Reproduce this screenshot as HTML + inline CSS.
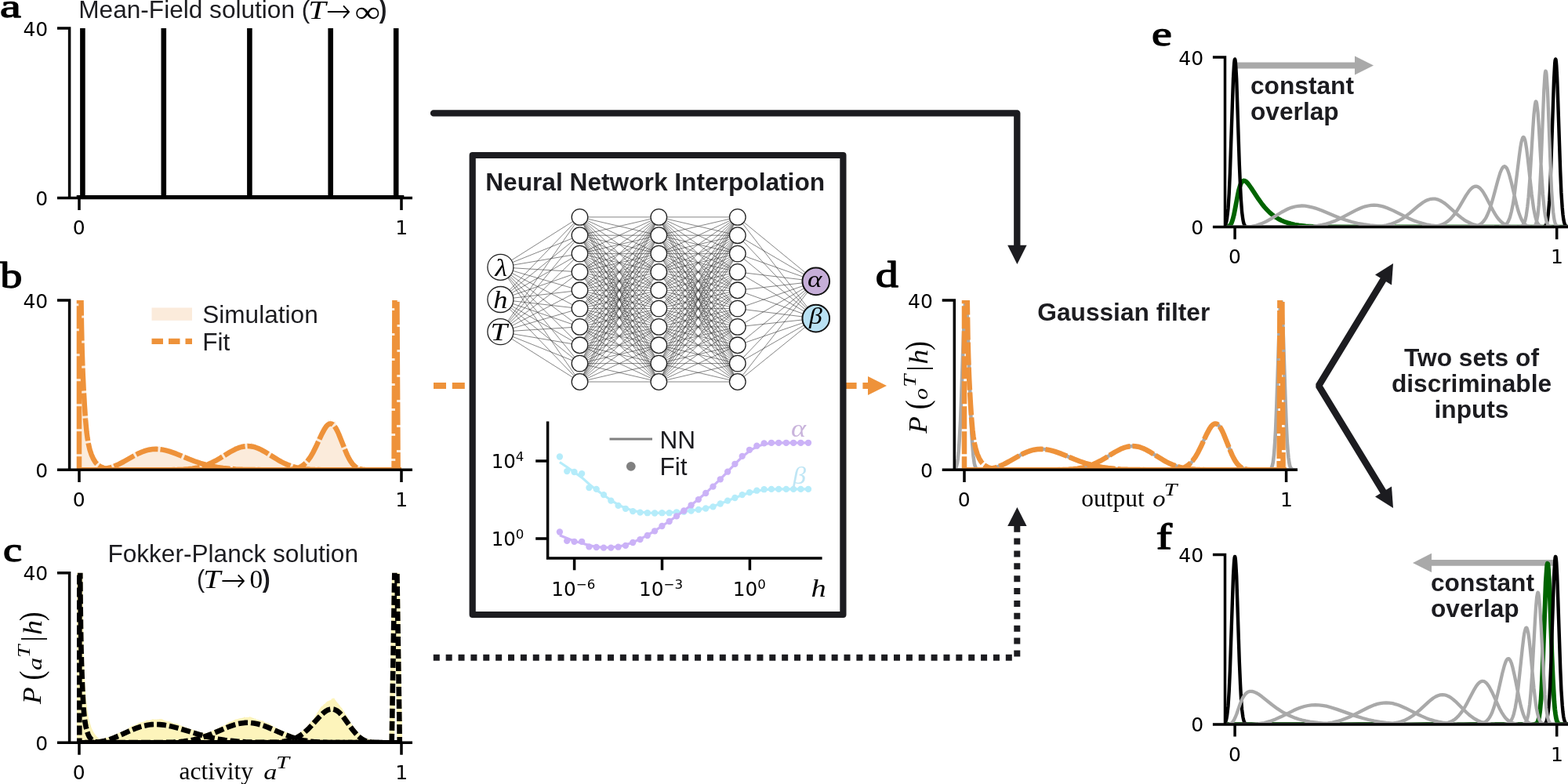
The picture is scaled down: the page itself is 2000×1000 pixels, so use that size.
<!DOCTYPE html>
<html lang="en"><head><meta charset="utf-8"><title>Figure</title>
<style>html,body{margin:0;padding:0;background:#fff}svg{display:block}</style></head><body>
<svg width="2000" height="1000" viewBox="0 0 2000 1000">
<rect width="2000" height="1000" fill="#fff"/>
<text transform="translate(0.12 22.13) scale(1.4001 1)" font-family="Liberation Serif, serif" font-size="43.21" fill="#000" stroke="#000" stroke-width="1.3" stroke-linejoin="round">a</text>
<text transform="translate(0.35 366.5) scale(1.2149 1)" font-family="Liberation Serif, serif" font-size="46.33" fill="#000" stroke="#000" stroke-width="1.3" stroke-linejoin="round">b</text>
<text transform="translate(4.08 716.31) scale(1.2113 1)" font-family="Liberation Serif, serif" font-size="44.91" fill="#000" stroke="#000" stroke-width="1.3" stroke-linejoin="round">c</text>
<text transform="translate(1116.75 366.2) scale(1.2568 1)" font-family="Liberation Serif, serif" font-size="46.33" fill="#000" stroke="#000" stroke-width="1.3" stroke-linejoin="round">d</text>
<text transform="translate(1468.88 57.91) scale(1.2875 1)" font-family="Liberation Serif, serif" font-size="45.12" fill="#000" stroke="#000" stroke-width="1.3" stroke-linejoin="round">e</text>
<text transform="translate(1474.69 700.05) scale(1.3117 1)" font-family="Liberation Serif, serif" font-size="46.16" fill="#000" stroke="#000" stroke-width="1.3" stroke-linejoin="round">f</text>
<clipPath id="cp1"><rect x="88.6" y="36" width="437.4" height="216.4"/></clipPath>
<g clip-path="url(#cp1)">
<path d="M101 252.4H512M105.4 252.4V30M208.8 252.4V30M318.4 252.4V30M421.7 252.4V30M505.2 252.4V30" fill="none" stroke="#000" stroke-width="6.6" stroke-linecap="square"/>
</g>
<path d="M88.6 36V252.4H526M73 36H90.35M73 252.4H88.6M101 252.4v15.6M512 252.4v15.6" fill="none" stroke="#000" stroke-width="3.5"/>
<g font-family="DejaVu Sans, sans-serif" font-size="25" fill="#000"><text x="61.2" y="45.7" text-anchor="end">40</text><text x="61.2" y="261.8" text-anchor="end">0</text><text x="100.8" y="299" text-anchor="middle">0</text><text x="512.3" y="299" text-anchor="middle">1</text></g>
<text x="100.3" y="23.2" font-family="Liberation Sans, sans-serif" font-size="31.6" fill="#1c1c20">Mean-Field solution (</text>
<text transform="translate(393.26 23.7) scale(1.1909 1)" font-family="Liberation Serif, serif" font-size="33.9" font-style="italic" fill="#000">T</text>
<text transform="translate(415.6 27.93) scale(0.9305 1)" font-family="DejaVu Sans, sans-serif" font-size="41.41" font-weight="200" fill="#000">→</text>
<text transform="translate(452.38 27.53) scale(1.1832 1)" font-family="Liberation Serif, serif" font-size="38.6" fill="#000">∞</text>
<text transform="translate(483.77 22.87) scale(0.8714 1)" font-family="Liberation Sans, sans-serif" font-size="32.94" font-weight="bold" fill="#1c1c20">)</text>
<clipPath id="cp2"><rect x="88.6" y="383" width="437.4" height="216.3"/></clipPath>
<g clip-path="url(#cp2)">
<path d="M101 383L103.5 383L104 414.7L105.5 474.5L106.5 487.5L107 486.9L109 537.2L109.5 540.3L111 556.7L111.5 556.4L112 557.8L113 567.2L114 570.3L115 574.9L115.5 575.8L116 575.3L117.5 582.8L118 584.6L118.5 585.7L119 586.7L119.5 585.9L120 586.4L121 588.5L122.5 590.9L123 591.5L124 592.1L124.5 593L125.5 593.4L126 593.2L126.5 593.3L127.5 593.9L129 595.7L129.5 595.8L130 596.4L131.5 596.3L134 597.4L135.5 597.6L136.5 597.4L138 596.8L140.5 596.5L143.5 595.1L144 595.1L144.5 595.5L145 595.5L145.5 595.3L146 594.7L148.5 593.2L149.5 592.9L150.5 591.7L151 591.6L151.5 591.9L152 591.7L152.5 590.8L153 590.5L153.5 590.5L154 590.8L155.5 589.5L156.5 589.5L157 588.7L157.5 588.6L158.5 587.7L159 586.9L159.5 587.1L160 586.6L160.5 586.8L161 585.9L161.5 586.5L162 586.7L162.5 586.5L163.5 584.7L164 584.3L164.5 584.5L165.5 584.5L166.5 581.7L167 581.5L168 582.4L169.5 581.3L170 581.8L170.5 582.6L171 582L172 578.9L172.5 579.1L173 578.4L173.5 578.7L174 578L175 577.4L175.5 577.6L176 577.2L176.5 578.1L177 577.2L177.5 577.8L178 576.3L178.5 576.7L179 576.5L179.5 576.7L180 575.1L180.5 575.5L181 575.1L181.5 575.9L182 576.1L182.5 573.8L183 573.4L183.5 573.4L184.5 574.9L185 573.2L185.5 573.5L186 573L186.5 573.5L187 574.6L187.5 574L188 574.9L188.5 575.4L189 575.3L189.5 572.8L190.5 569.3L191 569.5L191.5 570.4L192.5 574.4L193 574.7L193.5 575.5L194.5 571.8L195 571.3L195.5 572.1L196 574.1L196.5 573.6L197 572.8L197.5 571L198 571.6L198.5 569.9L199.5 568.6L200 571L200.5 572.4L201.5 571.7L202.5 570.5L203 569.3L203.5 568.7L204.5 570.5L205 572L205.5 572.5L206 571.2L206.5 571.4L207 569.1L207.5 571.3L208 570.7L208.5 571.6L209 571.4L209.5 571.4L210 572.7L211.5 574.3L212 572.7L212.5 572.8L213 570.9L213.5 574.7L214 574.7L214.5 575.8L215 574L215.5 573.3L216.5 573.5L217 574.2L217.5 572.7L218 572.4L218.5 572.7L219 575.5L219.5 575.8L220 577.2L220.5 577.2L221.5 574L222 573.6L222.5 574.8L223 574.4L223.5 574.7L224 574.2L224.5 575L225.5 576L226 578.7L226.5 579.4L227 580.6L227.5 579.8L228 579.7L228.5 580.5L229 580.6L229.5 578.9L230 578.3L230.5 578.2L231.5 580L232 579.7L232.5 580.5L233 579.6L233.5 581.2L234 581.2L234.5 582.3L235.5 582.4L236 583.2L236.5 581.9L237 582.4L237.5 581.8L238 582.8L238.5 582.8L239 584.4L239.5 584.6L240 585.6L240.5 584.7L241 585L241.5 584.6L242 585.3L243 584.1L243.5 584.1L244.5 586.2L245.5 585.2L246.5 587L247 588.4L247.5 588.5L248 589.1L248.5 588.7L249 588.9L249.5 587.9L250 587.9L250.5 588.1L251.5 589.9L252 589.2L252.5 589.3L253.5 590.4L254.5 590.1L255 589.8L255.5 590L256 589.8L256.5 590.7L257.5 591.3L258 591.8L258.5 591.9L259 592.4L259.5 592L260 592.6L260.5 591.8L261 591.9L261.5 591.4L262.5 592.4L263 593.2L263.5 593.6L265 591.7L265.5 591.5L266 591.6L266.5 591.6L267.5 590.6L268.5 591.4L269 591.1L269.5 590.1L270 590.1L270.5 589.7L271 590.3L272 588.7L272.5 587.1L273 587.7L273.5 587.9L274 589.3L274.5 588.3L275 588.2L275.5 587.1L276.5 586.4L277 585.3L278 584.7L278.5 585.7L279 586.1L279.5 586.1L281 582.5L281.5 582.8L282 582.6L282.5 582.9L283.5 581.5L284 581.7L284.5 580.3L285 580.5L285.5 579.1L286 579.7L286.5 578.2L287 579.5L287.5 578.8L288 579.8L288.5 578.3L289 577.5L289.5 577.7L290 578.5L290.5 579.8L291 578.5L291.5 578.6L292 577.5L292.5 578.4L293 577.5L293.5 577.6L294 576L294.5 575.3L295 575.1L295.5 575.2L296 574.6L296.5 576.2L297 576.3L297.5 575.7L298.5 569.6L299 568.8L299.5 569.5L300 572L300.5 572.3L301 571.4L301.5 569L302 569.7L303 570.2L303.5 567.3L304 567.1L304.5 568.2L305 570.6L305.5 571L306 570.9L307.5 566.1L308 565.6L308.5 567L309 567.2L309.5 568.7L310.5 567.1L311 566.6L312 570L312.5 570.7L313 570.3L313.5 570.8L314 569L314.5 565.6L315 565.2L315.5 565.2L316.5 566.4L317.5 568.9L318 567.5L318.5 569.2L319 569.5L319.5 568.7L320.5 563.5L321 565.1L321.5 564.6L323.5 569.5L324 567.7L324.5 568.7L325 567.3L326.5 568.5L327.5 569L328 568.9L328.5 569.8L329 570.2L329.5 572.2L330 573.4L330.5 573.5L331 571.5L332 571L332.5 573.9L333 573.9L334 571.3L334.5 571.6L335.5 575L336 575.4L336.5 576.4L337 576.8L338.5 574.4L339 575.1L339.5 577L340.5 578.6L341 577.2L341.5 577.1L342 576.2L342.5 577.4L343 579.4L343.5 579.6L344 578.8L344.5 579L345 579.8L345.5 580.2L346 580.3L346.5 579.6L347 580.9L348 581.8L349 581.8L349.5 582.4L350 584L350.5 583L351 584.2L351.5 583.4L352 584.8L352.5 584.5L353 584.5L353.5 585.1L354 585.2L354.5 586.1L355 586.3L356 587.6L356.5 587.9L357.5 587.7L358 587.3L359 588.4L359.5 589.7L360 590.3L361 589.8L361.5 590.1L362 590.1L362.5 590.9L363.5 591.7L364 590.9L364.5 590.7L365.5 591.9L366 592L366.5 591.8L368 593.2L368.5 593.2L369.5 592.7L371 594.3L373.5 594.6L374.5 595.2L375 595.8L376.5 596.3L378 596.2L379.5 596.9L380.5 596.7L381.5 596.3L382 595.8L383.5 595.2L385 594.1L386 593.9L387.5 591.7L388 591.7L388.5 591.8L389 591.5L389.5 590.7L391 589.2L391.5 587.9L392 587.6L392.5 586.9L393 587.2L393.5 586.3L394 585.9L395 581.1L395.5 580L396 579.7L396.5 580.1L397 580.2L397.5 579.2L398 579.8L398.5 576.8L399 575.3L399.5 572.9L400 573.8L401 571.7L401.5 569.7L402 569.6L402.5 570.5L403.5 567.5L404 564.1L404.5 563.3L405 564.4L406 561.6L406.5 559.2L407 559.7L408.5 552.1L409.5 549.5L410 546.4L410.5 546.3L411 547.6L411.5 549.9L412 549.2L413 543.6L414 543.3L414.5 546L415 542L415.5 542.3L416 539L416.5 542.2L417 541.4L417.5 543L418 537.6L419 534.4L419.5 539.5L420 541.3L420.5 539.6L421 534.1L421.5 535.8L422.5 542.7L423 541.2L423.5 543L424 542.8L424.5 540.4L426 540.9L426.5 536.5L427 538.4L427.5 536.7L428.5 540L429.5 547.4L430 545.4L430.5 550.3L431 548.2L431.5 551.8L432 549.1L432.5 550.4L433 550.1L433.5 553.1L434 554L434.5 558.5L435 559.3L435.5 561.5L436 559.8L436.5 560.8L437 558.4L438 562L438.5 567.2L439 567.2L439.5 571.3L440 571.2L440.5 574.5L441 575.9L441.5 579.2L442 579.9L442.5 579.2L443.5 580.1L444.5 582.5L445 585L445.5 585.7L446 586.1L446.5 586.2L447.5 589.7L448 589.7L449 590.5L449.5 591.8L450 592.1L451 593.2L451.5 594.2L452 594.5L453.5 595.2L455.5 596.7L458 597.9L460.5 598.5L464.5 599.1L472.5 599.3L512 599.3L512 599.3L101 599.3Z" fill="#fbebdb"/>
<path d="M101 350.6L103 350.6L104 417.1L104.5 440.5L105.5 472.7L106.5 494.4L108 520L109 534.7L110.5 551L111.5 558.6L113 567.1L114.5 573.4L116.5 579.6L119 585.2L121.5 589.3L123 591.1L124.5 592.6L127.5 594.8L129.5 595.8L132 596.8L137.5 598.3L142.5 599L149 599.3L512 599.3M101 599.3L117.5 599.3L125.5 599L133 598.2L139.5 596.8L145.5 594.8L151.5 592.1L157.5 589L172.5 580.5L177 578.2L181 576.5L185.5 574.9L190 573.7L194.5 573L199 572.8L203 573L207.5 573.6L212 574.6L216.5 575.9L225 578.9L241 585.5L248 588.2L255.5 590.8L262.5 592.8L269.5 594.5L277 595.9L284.5 597L292.5 597.8L300.5 598.4L309.5 598.8L333.5 599.2L512 599.3M101 599.3L218.5 599.2L234 598.8L240 598.3L245.5 597.7L250.5 596.8L255.5 595.7L260.5 594.2L265 592.5L270 590.2L275 587.7L280.5 584.5L293.5 576.5L300.5 572.8L304.5 571.2L308.5 570L312.5 569.2L316 569L319 569.2L322.5 569.7L326 570.7L329.5 572L333 573.6L337 575.8L354.5 586.6L359 589.1L363.5 591.3L368.5 593.4L373.5 595.1L379 596.6L384.5 597.6L389.5 598.2L395.5 598.7L410 599.2L512 599.3M101 599.3L353 599.3L366.5 599L371 598.7L375 598.2L377.5 597.6L380 596.9L382.5 595.9L384.5 594.8L386.5 593.5L388.5 591.9L390.5 590L392.5 587.7L396 582.8L399.5 576.8L403 569.8L410.5 553.6L414 547.1L416 544.1L418 542L420 540.7L421.5 540.4L423 540.6L424 541.1L425 541.9L426.5 543.5L428.5 546.4L430 549.2L432 553.5L441 576L443 580.6L445 584.6L447 588.1L449.5 591.7L452 594.3L454.5 596.3L456.5 597.3L459 598.2L462 598.8L465.5 599.1L473.5 599.3L512 599.3M101 599.3H101V375M101 599.3H502.6L503.4 383v-8M101 599.3H507.6L506.4 383v-8" fill="none" stroke="#fbebdb" stroke-width="6.5" stroke-linejoin="round"/>
<path d="M101 350.6L103 350.6L104 417.1L104.5 440.5L105.5 472.7L106.5 494.4L108 520L109 534.7L110.5 551L111.5 558.6L113 567.1L114.5 573.4L116.5 579.6L119 585.2L121.5 589.3L123 591.1L124.5 592.6L127.5 594.8L129.5 595.8L132 596.8L137.5 598.3L142.5 599L149 599.3L512 599.3" fill="none" stroke="#ee923a" stroke-width="6.5" stroke-dasharray="29 3" stroke-dashoffset="7" stroke-linejoin="round"/>
<path d="M101 599.3L117.5 599.3L125.5 599L133 598.2L139.5 596.8L145.5 594.8L151.5 592.1L157.5 589L172.5 580.5L177 578.2L181 576.5L185.5 574.9L190 573.7L194.5 573L199 572.8L203 573L207.5 573.6L212 574.6L216.5 575.9L225 578.9L241 585.5L248 588.2L255.5 590.8L262.5 592.8L269.5 594.5L277 595.9L284.5 597L292.5 597.8L300.5 598.4L309.5 598.8L333.5 599.2L512 599.3" fill="none" stroke="#ee923a" stroke-width="6.5" stroke-dasharray="29 3" stroke-dashoffset="19" stroke-linejoin="round"/>
<path d="M101 599.3L218.5 599.2L234 598.8L240 598.3L245.5 597.7L250.5 596.8L255.5 595.7L260.5 594.2L265 592.5L270 590.2L275 587.7L280.5 584.5L293.5 576.5L300.5 572.8L304.5 571.2L308.5 570L312.5 569.2L316 569L319 569.2L322.5 569.7L326 570.7L329.5 572L333 573.6L337 575.8L354.5 586.6L359 589.1L363.5 591.3L368.5 593.4L373.5 595.1L379 596.6L384.5 597.6L389.5 598.2L395.5 598.7L410 599.2L512 599.3" fill="none" stroke="#ee923a" stroke-width="6.5" stroke-dasharray="29 3" stroke-dashoffset="3" stroke-linejoin="round"/>
<path d="M101 599.3L353 599.3L366.5 599L371 598.7L375 598.2L377.5 597.6L380 596.9L382.5 595.9L384.5 594.8L386.5 593.5L388.5 591.9L390.5 590L392.5 587.7L396 582.8L399.5 576.8L403 569.8L410.5 553.6L414 547.1L416 544.1L418 542L420 540.7L421.5 540.4L423 540.6L424 541.1L425 541.9L426.5 543.5L428.5 546.4L430 549.2L432 553.5L441 576L443 580.6L445 584.6L447 588.1L449.5 591.7L452 594.3L454.5 596.3L456.5 597.3L459 598.2L462 598.8L465.5 599.1L473.5 599.3L512 599.3" fill="none" stroke="#ee923a" stroke-width="6.5" stroke-dasharray="29 3" stroke-dashoffset="26" stroke-linejoin="round"/>
<path d="M101 599.3H101V375" fill="none" stroke="#ee923a" stroke-width="6.5" stroke-dasharray="29 3" stroke-dashoffset="12" stroke-linejoin="round"/>
<path d="M101 599.3H502.6L503.4 383v-8" fill="none" stroke="#ee923a" stroke-width="6.5" stroke-dasharray="29 3" stroke-dashoffset="0" stroke-linejoin="round"/>
<path d="M101 599.3H507.6L506.4 383v-8" fill="none" stroke="#ee923a" stroke-width="6.5" stroke-dasharray="29 3" stroke-dashoffset="16" stroke-linejoin="round"/>
</g>
<path d="M88.6 383V599.3H526M73 383H90.35M73 599.3H88.6M101 599.3v15.6M512 599.3v15.6" fill="none" stroke="#000" stroke-width="3.5"/>
<g font-family="DejaVu Sans, sans-serif" font-size="25" fill="#000"><text x="61.2" y="392.7" text-anchor="end">40</text><text x="61.2" y="608.7" text-anchor="end">0</text><text x="100.8" y="645.9" text-anchor="middle">0</text><text x="512.3" y="645.9" text-anchor="middle">1</text></g>
<rect x="193.5" y="392.5" width="51.5" height="16.3" fill="#fbebdb"/>
<path d="M193.5 435.4H245" stroke="#ee923a" stroke-width="7.2" stroke-dasharray="14.5 7" fill="none"/>
<text x="258.2" y="411.8" font-family="Liberation Sans, sans-serif" font-size="31.6" fill="#1c1c20">Simulation</text>
<text x="258.2" y="446.7" font-family="Liberation Sans, sans-serif" font-size="31.6" fill="#1c1c20">Fit</text>
<clipPath id="cp3"><rect x="88.6" y="730.7" width="437.4" height="216.5"/></clipPath>
<g clip-path="url(#cp3)">
<path d="M101 730.7L103 730.7L103.5 731.8L104.5 786.9L105.5 819.6L106.5 841.8L109 881.3L110 893.6L111.5 906.1L112.5 912.6L113.5 917.8L116.5 928.1L118.5 932.3L120 935L122 937.8L123.5 939.6L124.5 940.5L126 941.7L128.5 943.2L132 944.7L137.5 943L144.5 940L148.5 937.6L151 936.4L151.5 936.4L153.5 935.1L154.5 934.7L156 933.4L157.5 933L159 932L159.5 931.9L161 930.7L162 930.2L164 928.8L165 928.3L166.5 927L169.5 925.4L171 925.1L172 925.1L172.5 924.6L174 924L176.5 922.2L179 921.6L179.5 921.8L180 921.3L180.5 921.1L181 921.3L181.5 921L182 921.1L183 920.4L183.5 920.4L184 920L185 919.9L186 919.4L186.5 918.8L187.5 918.8L188 918.4L190 919L190.5 918.7L191 918.8L191.5 918.5L192.5 918.5L193 918.1L193.5 918L194.5 917.3L197.5 917.7L198 917.4L199 917.5L199.5 917.8L200 917.6L201.5 917.6L202 917.3L202.5 917.4L204 916.9L204.5 917L205 917.3L206 916.9L207 917.3L208.5 918.5L209 918.4L210.5 919.3L211.5 919.6L212 919.3L212.5 919.7L213 919.7L213.5 920.1L214 919.9L215.5 920.3L216 920.3L216.5 920.6L217 920.5L217.5 920.8L218 920.8L219.5 922L220.5 922.1L221.5 922.7L222 922.5L222.5 922.8L223 922.5L224.5 923.1L225 923L226 923.1L226.5 923.6L227 923.6L227.5 924L228 924L229.5 925L230 925L230.5 925.4L231 925.3L231.5 925.7L233.5 926.6L234 926.6L234.5 927.1L235.5 927.4L236 927.8L237 928L238 928L238.5 928.4L240.5 928.9L241.5 929.4L242 929.5L242.5 929.9L243.5 930.1L245.5 931L247.5 931.3L248.5 932.1L251.5 933.1L252.5 933.8L253 933.9L256.5 935.5L257 935.4L257.5 935.7L261.5 937L262.5 937L268 934.4L268.5 934.3L270.5 932.6L271 932.5L272 932.1L273 931.3L274.5 930.8L275.5 930.1L276.5 929.8L277.5 929.2L279.5 928.3L281 927.2L281.5 927.1L282.5 926.3L283.5 926.2L286 925.1L287 924.9L288 923.9L289.5 922.7L290.5 922.2L292 921.1L293.5 920.6L294 920.6L295.5 919.8L297 919.5L299.5 918L300.5 917.6L301.5 917.3L302 917.4L303 917.1L303.5 917.1L304 916.7L304.5 916.8L305.5 916.3L306 916.4L306.5 916.1L307 916.3L307.5 916.3L309 915.4L309.5 915.8L310 915.8L310.5 915.2L311 915.1L311.5 914.4L312.5 914.6L313 915.2L313.5 915.4L314 914.8L316 915.1L317 915L317.5 914.3L318.5 914.6L319 914.2L319.5 914.4L320 914.2L320.5 914.9L321.5 915.3L322 915.8L322.5 915.7L323 915.8L323.5 916.3L324 916.3L324.5 917L325 916.4L325.5 916.5L326 916.8L327.5 917.9L328.5 918L329 917.7L330 918.8L331.5 918.7L332 918.8L332.5 918.6L333 919.3L333.5 919.6L334 919.3L334.5 919.2L335 919.5L335.5 919.2L336.5 920.1L337 920.9L337.5 920.8L338 921L338.5 921.5L339 921.4L339.5 921.5L340 922L341 921.8L341.5 921.9L342 922.3L343 922.5L344.5 923.7L346.5 925L348 926.3L350.5 927.4L351.5 928L354 929L355 929.9L357 931.2L358 931.7L360.5 932.4L362.5 933.4L363 934L365.5 935.6L367.5 936.2L376.5 940.5L377.5 940L380 938.3L385 934L391 927.9L394 923.7L398 918.8L399 918L399.5 917.9L401 915L401.5 914.6L403 911.8L403.5 911.2L404 909.6L405.5 907.9L406 906.9L409.5 901.5L411 900.5L411.5 900.4L412.5 899L413.5 898L414 898.1L414.5 897.5L415 897.3L415.5 896.2L416.5 895.5L417 894.7L417.5 894.5L418 894.6L419 894.2L419.5 893.5L420 893.7L420.5 893.2L421.5 893.3L422 892.7L422.5 892.5L423 891L423.5 891.2L424.5 890.7L425.5 890.5L426.5 890.8L427.5 892.8L428 893.1L429 894.8L430 895.8L430.5 896.6L431.5 897.5L432.5 899.1L433 899.5L434 900.8L434.5 901.8L435 902L435.5 902.7L436 903.1L437 904.7L437.5 905.9L438 906.3L439.5 908.6L440.5 910.9L441.5 911.6L442 912.2L442.5 913.5L443.5 915L444 916.3L445 917.5L446 919.9L447.5 922.8L451 928.5L451.5 929L452.5 930.8L454.5 933.6L460 939.9L464 943.1L467 944.7L470.5 945.9L473.5 946.5L477 946.9L485 947.2L512 947.2L512 947.2L101 947.2Z" fill="#fdf4bb"/>
<path d="M101 698.2L102 698.2L102.5 757.9L103 800.4L103.5 827.1L104 845.6L105 872.8L105.5 884.7L106.5 902.5L107.5 913.6L108.5 921.2L109.5 926.7L111 932.7L112.5 936.9L114 939.9L116 942.5L117 943.5L118.5 944.6L121 945.8L123.5 946.6L126 947L129.5 947.2L512 947.2M101 947.2L113.5 947.1L120.5 946.9L127 946.2L133.5 945L139.5 943.3L145.5 941.1L151.5 938.6L168.5 930.9L173.5 928.9L178 927.3L183.5 925.8L188.5 924.8L193.5 924.1L199 923.9L203.5 924.1L208.5 924.6L213.5 925.4L219 926.6L228.5 929.1L255.5 937.3L263.5 939.5L271.5 941.3L279 942.7L287 943.9L295 944.9L304 945.7L313 946.3L323.5 946.7L349 947.1L512 947.2M101 947.2L205 947.1L221.5 946.6L228.5 946.2L234.5 945.6L241 944.7L247 943.5L253 942.1L259 940.3L269.5 936.4L290.5 927.5L295 925.8L299.5 924.3L304 923.1L308 922.4L312 921.9L316 921.8L320 921.9L324 922.4L328 923.2L332.5 924.4L337 925.9L341.5 927.6L361.5 936.3L371.5 940.1L377.5 942L383 943.4L388.5 944.6L394.5 945.5L400 946.1L406.5 946.6L422 947.1L512 947.2M101 947.2L331.5 947.2L349.5 946.8L355.5 946.5L361 945.9L367.5 944.7L373 943.1L378.5 940.8L383.5 937.8L388 934.5L393 930L397.5 925.3L407.5 914.3L412.5 909.4L415.5 907.1L418 905.7L420.5 904.8L423 904.4L425.5 904.7L428 905.6L430.5 907L433.5 909.6L436 912.2L438.5 915.3L449 929.8L454 935.9L456.5 938.5L459 940.7L461.5 942.5L464.5 944.2L467 945.2L470 946L473 946.6L477 947L485 947.2L512 947.2M101 947.2H101.3V722.7M101 947.2H499.7L503.3 730.7v-8M101 947.2H509.8L506.4 730.7v-8" fill="none" stroke="#fdf4bb" stroke-width="6.6" stroke-linejoin="round"/>
<path d="M101 698.2L102 698.2L102.5 757.9L103 800.4L103.5 827.1L104 845.6L105 872.8L105.5 884.7L106.5 902.5L107.5 913.6L108.5 921.2L109.5 926.7L111 932.7L112.5 936.9L114 939.9L116 942.5L117 943.5L118.5 944.6L121 945.8L123.5 946.6L126 947L129.5 947.2L512 947.2" fill="none" stroke="#000" stroke-width="6.6" stroke-dasharray="12 4" stroke-dashoffset="3" stroke-linejoin="round"/>
<path d="M101 947.2L113.5 947.1L120.5 946.9L127 946.2L133.5 945L139.5 943.3L145.5 941.1L151.5 938.6L168.5 930.9L173.5 928.9L178 927.3L183.5 925.8L188.5 924.8L193.5 924.1L199 923.9L203.5 924.1L208.5 924.6L213.5 925.4L219 926.6L228.5 929.1L255.5 937.3L263.5 939.5L271.5 941.3L279 942.7L287 943.9L295 944.9L304 945.7L313 946.3L323.5 946.7L349 947.1L512 947.2" fill="none" stroke="#000" stroke-width="6.6" stroke-dasharray="12 4" stroke-dashoffset="9" stroke-linejoin="round"/>
<path d="M101 947.2L205 947.1L221.5 946.6L228.5 946.2L234.5 945.6L241 944.7L247 943.5L253 942.1L259 940.3L269.5 936.4L290.5 927.5L295 925.8L299.5 924.3L304 923.1L308 922.4L312 921.9L316 921.8L320 921.9L324 922.4L328 923.2L332.5 924.4L337 925.9L341.5 927.6L361.5 936.3L371.5 940.1L377.5 942L383 943.4L388.5 944.6L394.5 945.5L400 946.1L406.5 946.6L422 947.1L512 947.2" fill="none" stroke="#000" stroke-width="6.6" stroke-dasharray="12 4" stroke-dashoffset="1" stroke-linejoin="round"/>
<path d="M101 947.2L331.5 947.2L349.5 946.8L355.5 946.5L361 945.9L367.5 944.7L373 943.1L378.5 940.8L383.5 937.8L388 934.5L393 930L397.5 925.3L407.5 914.3L412.5 909.4L415.5 907.1L418 905.7L420.5 904.8L423 904.4L425.5 904.7L428 905.6L430.5 907L433.5 909.6L436 912.2L438.5 915.3L449 929.8L454 935.9L456.5 938.5L459 940.7L461.5 942.5L464.5 944.2L467 945.2L470 946L473 946.6L477 947L485 947.2L512 947.2" fill="none" stroke="#000" stroke-width="6.6" stroke-dasharray="12 4" stroke-dashoffset="13" stroke-linejoin="round"/>
<path d="M101 947.2H101.3V722.7" fill="none" stroke="#000" stroke-width="6.6" stroke-dasharray="12 4" stroke-dashoffset="6" stroke-linejoin="round"/>
<path d="M101 947.2H499.7L503.3 730.7v-8" fill="none" stroke="#000" stroke-width="6.6" stroke-dasharray="12 4" stroke-dashoffset="2" stroke-linejoin="round"/>
<path d="M101 947.2H509.8L506.4 730.7v-8" fill="none" stroke="#000" stroke-width="6.6" stroke-dasharray="12 4" stroke-dashoffset="12" stroke-linejoin="round"/>
</g>
<path d="M88.6 730.7V947.2H526M73 730.7H90.35M73 947.2H88.6M101 947.2v15.6M512 947.2v15.6" fill="none" stroke="#000" stroke-width="3.5"/>
<g font-family="DejaVu Sans, sans-serif" font-size="25" fill="#000"><text x="61.2" y="740.4" text-anchor="end">40</text><text x="61.2" y="956.6" text-anchor="end">0</text><text x="100.8" y="993.8" text-anchor="middle">0</text><text x="512.3" y="993.8" text-anchor="middle">1</text></g>
<text x="297.2" y="716.6" text-anchor="middle" font-family="Liberation Sans, sans-serif" font-size="31.6" fill="#1c1c20">Fokker-Planck solution</text>
<text transform="translate(251.01 749.33) scale(0.9487 1)" font-family="Liberation Sans, sans-serif" font-size="32.2" fill="#1c1c20">(</text>
<text transform="translate(259.29 749.7) scale(1.1748 1)" font-family="Liberation Serif, serif" font-size="33.9" font-style="italic" fill="#000">T</text>
<text transform="translate(280.98 753.93) scale(0.9404 1)" font-family="DejaVu Sans, sans-serif" font-size="41.41" font-weight="200" fill="#000">→</text>
<text transform="translate(318.53 749.57) scale(0.9846 1)" font-family="Liberation Serif, serif" font-size="33.79" fill="#000">0</text>
<text transform="translate(334.77 749.32) scale(0.9248 1)" font-family="Liberation Sans, sans-serif" font-size="32.18" font-weight="bold" fill="#1c1c20">)</text>
<text x="228.5" y="993.6" font-family="Liberation Serif, serif" font-size="31.5" fill="#000">activity</text>
<text transform="translate(336.18 993.72) scale(1.2465 1)" font-family="Liberation Serif, serif" font-size="27.45" font-style="italic" fill="#000">a</text>
<text transform="translate(352 980.4) scale(1.3163 1)" font-family="Liberation Serif, serif" font-size="23.21" font-style="italic" fill="#000">T</text>
<text transform="translate(52.1 897.91) rotate(-90) scale(1.039 1)" font-family="Liberation Serif, serif" font-size="34.21" font-style="italic" fill="#000">P</text>
<text transform="translate(54.19 867.46) rotate(-90) scale(0.828 1)" font-family="Liberation Serif, serif" font-size="42.79" fill="#000">(</text>
<text transform="translate(52.55 854.96) rotate(-90) scale(1.3079 1)" font-family="Liberation Serif, serif" font-size="24.74" font-style="italic" fill="#000">a</text>
<text transform="translate(38.1 839.12) rotate(-90) scale(1.3044 1)" font-family="Liberation Serif, serif" font-size="22.45" font-style="italic" fill="#000">T</text>
<text transform="translate(52.16 818.62) rotate(-90) scale(1.021 1)" font-family="Liberation Serif, serif" font-size="35.4" fill="#000">|</text>
<text transform="translate(52.5 809.88) rotate(-90) scale(1.16 1)" font-family="Liberation Serif, serif" font-size="32.86" font-style="italic" fill="#000">h</text>
<text transform="translate(54.19 792.14) rotate(-90) scale(0.828 1)" font-family="Liberation Serif, serif" font-size="42.79" fill="#000">)</text>
<path d="M553 144.4H1297.3V314" fill="none" stroke="#1c1c20" stroke-width="8.3" stroke-linecap="round" stroke-linejoin="round"/>
<path d="M1285.2 312.8H1309.6L1297.4 337Z" fill="#1c1c20"/>
<path d="M553 492H1110" fill="none" stroke="#ee923a" stroke-width="8" stroke-dasharray="16 7.8"/>
<path d="M1107 480V504L1131 492Z" fill="#ee923a"/>
<path d="M552.8 838.8H1297.3V671" fill="none" stroke="#1c1c20" stroke-width="8" stroke-dasharray="8 7.87"/>
<path d="M1285.2 671H1309.6L1297.4 647Z" fill="#1c1c20"/>
<rect x="602.7" y="198" width="472.7" height="586" fill="#fff" stroke="#1c1c20" stroke-width="8.2" stroke-linejoin="round"/>
<text x="619.2" y="242.5" font-family="Liberation Sans, sans-serif" font-weight="bold" font-size="31.68" fill="#1c1c20">Neural Network Interpolation</text>
<path d="M638.4 340.8L739.5 276.9M638.4 340.8L739.5 300.2M638.4 340.8L739.5 323.6M638.4 340.8L739.5 346.9M638.4 340.8L739.5 370.3M638.4 340.8L739.5 393.6M638.4 340.8L739.5 416.9M638.4 340.8L739.5 440.3M638.4 340.8L739.5 463.6M638.4 340.8L739.5 487M638.4 382L739.5 276.9M638.4 382L739.5 300.2M638.4 382L739.5 323.6M638.4 382L739.5 346.9M638.4 382L739.5 370.3M638.4 382L739.5 393.6M638.4 382L739.5 416.9M638.4 382L739.5 440.3M638.4 382L739.5 463.6M638.4 382L739.5 487M638.4 423.2L739.5 276.9M638.4 423.2L739.5 300.2M638.4 423.2L739.5 323.6M638.4 423.2L739.5 346.9M638.4 423.2L739.5 370.3M638.4 423.2L739.5 393.6M638.4 423.2L739.5 416.9M638.4 423.2L739.5 440.3M638.4 423.2L739.5 463.6M638.4 423.2L739.5 487M739.5 276.9L840.3 276.9M739.5 276.9L840.3 300.2M739.5 276.9L840.3 323.6M739.5 276.9L840.3 346.9M739.5 276.9L840.3 370.3M739.5 276.9L840.3 393.6M739.5 276.9L840.3 416.9M739.5 276.9L840.3 440.3M739.5 276.9L840.3 463.6M739.5 276.9L840.3 487M739.5 300.2L840.3 276.9M739.5 300.2L840.3 300.2M739.5 300.2L840.3 323.6M739.5 300.2L840.3 346.9M739.5 300.2L840.3 370.3M739.5 300.2L840.3 393.6M739.5 300.2L840.3 416.9M739.5 300.2L840.3 440.3M739.5 300.2L840.3 463.6M739.5 300.2L840.3 487M739.5 323.6L840.3 276.9M739.5 323.6L840.3 300.2M739.5 323.6L840.3 323.6M739.5 323.6L840.3 346.9M739.5 323.6L840.3 370.3M739.5 323.6L840.3 393.6M739.5 323.6L840.3 416.9M739.5 323.6L840.3 440.3M739.5 323.6L840.3 463.6M739.5 323.6L840.3 487M739.5 346.9L840.3 276.9M739.5 346.9L840.3 300.2M739.5 346.9L840.3 323.6M739.5 346.9L840.3 346.9M739.5 346.9L840.3 370.3M739.5 346.9L840.3 393.6M739.5 346.9L840.3 416.9M739.5 346.9L840.3 440.3M739.5 346.9L840.3 463.6M739.5 346.9L840.3 487M739.5 370.3L840.3 276.9M739.5 370.3L840.3 300.2M739.5 370.3L840.3 323.6M739.5 370.3L840.3 346.9M739.5 370.3L840.3 370.3M739.5 370.3L840.3 393.6M739.5 370.3L840.3 416.9M739.5 370.3L840.3 440.3M739.5 370.3L840.3 463.6M739.5 370.3L840.3 487M739.5 393.6L840.3 276.9M739.5 393.6L840.3 300.2M739.5 393.6L840.3 323.6M739.5 393.6L840.3 346.9M739.5 393.6L840.3 370.3M739.5 393.6L840.3 393.6M739.5 393.6L840.3 416.9M739.5 393.6L840.3 440.3M739.5 393.6L840.3 463.6M739.5 393.6L840.3 487M739.5 416.9L840.3 276.9M739.5 416.9L840.3 300.2M739.5 416.9L840.3 323.6M739.5 416.9L840.3 346.9M739.5 416.9L840.3 370.3M739.5 416.9L840.3 393.6M739.5 416.9L840.3 416.9M739.5 416.9L840.3 440.3M739.5 416.9L840.3 463.6M739.5 416.9L840.3 487M739.5 440.3L840.3 276.9M739.5 440.3L840.3 300.2M739.5 440.3L840.3 323.6M739.5 440.3L840.3 346.9M739.5 440.3L840.3 370.3M739.5 440.3L840.3 393.6M739.5 440.3L840.3 416.9M739.5 440.3L840.3 440.3M739.5 440.3L840.3 463.6M739.5 440.3L840.3 487M739.5 463.6L840.3 276.9M739.5 463.6L840.3 300.2M739.5 463.6L840.3 323.6M739.5 463.6L840.3 346.9M739.5 463.6L840.3 370.3M739.5 463.6L840.3 393.6M739.5 463.6L840.3 416.9M739.5 463.6L840.3 440.3M739.5 463.6L840.3 463.6M739.5 463.6L840.3 487M739.5 487L840.3 276.9M739.5 487L840.3 300.2M739.5 487L840.3 323.6M739.5 487L840.3 346.9M739.5 487L840.3 370.3M739.5 487L840.3 393.6M739.5 487L840.3 416.9M739.5 487L840.3 440.3M739.5 487L840.3 463.6M739.5 487L840.3 487M840.3 276.9L940.8 276.9M840.3 276.9L940.8 300.2M840.3 276.9L940.8 323.6M840.3 276.9L940.8 346.9M840.3 276.9L940.8 370.3M840.3 276.9L940.8 393.6M840.3 276.9L940.8 416.9M840.3 276.9L940.8 440.3M840.3 276.9L940.8 463.6M840.3 276.9L940.8 487M840.3 300.2L940.8 276.9M840.3 300.2L940.8 300.2M840.3 300.2L940.8 323.6M840.3 300.2L940.8 346.9M840.3 300.2L940.8 370.3M840.3 300.2L940.8 393.6M840.3 300.2L940.8 416.9M840.3 300.2L940.8 440.3M840.3 300.2L940.8 463.6M840.3 300.2L940.8 487M840.3 323.6L940.8 276.9M840.3 323.6L940.8 300.2M840.3 323.6L940.8 323.6M840.3 323.6L940.8 346.9M840.3 323.6L940.8 370.3M840.3 323.6L940.8 393.6M840.3 323.6L940.8 416.9M840.3 323.6L940.8 440.3M840.3 323.6L940.8 463.6M840.3 323.6L940.8 487M840.3 346.9L940.8 276.9M840.3 346.9L940.8 300.2M840.3 346.9L940.8 323.6M840.3 346.9L940.8 346.9M840.3 346.9L940.8 370.3M840.3 346.9L940.8 393.6M840.3 346.9L940.8 416.9M840.3 346.9L940.8 440.3M840.3 346.9L940.8 463.6M840.3 346.9L940.8 487M840.3 370.3L940.8 276.9M840.3 370.3L940.8 300.2M840.3 370.3L940.8 323.6M840.3 370.3L940.8 346.9M840.3 370.3L940.8 370.3M840.3 370.3L940.8 393.6M840.3 370.3L940.8 416.9M840.3 370.3L940.8 440.3M840.3 370.3L940.8 463.6M840.3 370.3L940.8 487M840.3 393.6L940.8 276.9M840.3 393.6L940.8 300.2M840.3 393.6L940.8 323.6M840.3 393.6L940.8 346.9M840.3 393.6L940.8 370.3M840.3 393.6L940.8 393.6M840.3 393.6L940.8 416.9M840.3 393.6L940.8 440.3M840.3 393.6L940.8 463.6M840.3 393.6L940.8 487M840.3 416.9L940.8 276.9M840.3 416.9L940.8 300.2M840.3 416.9L940.8 323.6M840.3 416.9L940.8 346.9M840.3 416.9L940.8 370.3M840.3 416.9L940.8 393.6M840.3 416.9L940.8 416.9M840.3 416.9L940.8 440.3M840.3 416.9L940.8 463.6M840.3 416.9L940.8 487M840.3 440.3L940.8 276.9M840.3 440.3L940.8 300.2M840.3 440.3L940.8 323.6M840.3 440.3L940.8 346.9M840.3 440.3L940.8 370.3M840.3 440.3L940.8 393.6M840.3 440.3L940.8 416.9M840.3 440.3L940.8 440.3M840.3 440.3L940.8 463.6M840.3 440.3L940.8 487M840.3 463.6L940.8 276.9M840.3 463.6L940.8 300.2M840.3 463.6L940.8 323.6M840.3 463.6L940.8 346.9M840.3 463.6L940.8 370.3M840.3 463.6L940.8 393.6M840.3 463.6L940.8 416.9M840.3 463.6L940.8 440.3M840.3 463.6L940.8 463.6M840.3 463.6L940.8 487M840.3 487L940.8 276.9M840.3 487L940.8 300.2M840.3 487L940.8 323.6M840.3 487L940.8 346.9M840.3 487L940.8 370.3M840.3 487L940.8 393.6M840.3 487L940.8 416.9M840.3 487L940.8 440.3M840.3 487L940.8 463.6M840.3 487L940.8 487M940.8 276.9L1040.8 358.9M940.8 276.9L1040.8 406.1M940.8 300.2L1040.8 358.9M940.8 300.2L1040.8 406.1M940.8 323.6L1040.8 358.9M940.8 323.6L1040.8 406.1M940.8 346.9L1040.8 358.9M940.8 346.9L1040.8 406.1M940.8 370.3L1040.8 358.9M940.8 370.3L1040.8 406.1M940.8 393.6L1040.8 358.9M940.8 393.6L1040.8 406.1M940.8 416.9L1040.8 358.9M940.8 416.9L1040.8 406.1M940.8 440.3L1040.8 358.9M940.8 440.3L1040.8 406.1M940.8 463.6L1040.8 358.9M940.8 463.6L1040.8 406.1M940.8 487L1040.8 358.9M940.8 487L1040.8 406.1" fill="none" stroke="#333" stroke-width="0.6"/>
<g fill="#fff" stroke="#222" stroke-width="1.3"><circle cx="739.5" cy="276.9" r="10.3"/><circle cx="739.5" cy="300.2" r="10.3"/><circle cx="739.5" cy="323.6" r="10.3"/><circle cx="739.5" cy="346.9" r="10.3"/><circle cx="739.5" cy="370.3" r="10.3"/><circle cx="739.5" cy="393.6" r="10.3"/><circle cx="739.5" cy="416.9" r="10.3"/><circle cx="739.5" cy="440.3" r="10.3"/><circle cx="739.5" cy="463.6" r="10.3"/><circle cx="739.5" cy="487" r="10.3"/><circle cx="840.3" cy="276.9" r="10.3"/><circle cx="840.3" cy="300.2" r="10.3"/><circle cx="840.3" cy="323.6" r="10.3"/><circle cx="840.3" cy="346.9" r="10.3"/><circle cx="840.3" cy="370.3" r="10.3"/><circle cx="840.3" cy="393.6" r="10.3"/><circle cx="840.3" cy="416.9" r="10.3"/><circle cx="840.3" cy="440.3" r="10.3"/><circle cx="840.3" cy="463.6" r="10.3"/><circle cx="840.3" cy="487" r="10.3"/><circle cx="940.8" cy="276.9" r="10.3"/><circle cx="940.8" cy="300.2" r="10.3"/><circle cx="940.8" cy="323.6" r="10.3"/><circle cx="940.8" cy="346.9" r="10.3"/><circle cx="940.8" cy="370.3" r="10.3"/><circle cx="940.8" cy="393.6" r="10.3"/><circle cx="940.8" cy="416.9" r="10.3"/><circle cx="940.8" cy="440.3" r="10.3"/><circle cx="940.8" cy="463.6" r="10.3"/><circle cx="940.8" cy="487" r="10.3"/><circle cx="638.4" cy="340.8" r="16.5"/><circle cx="638.4" cy="382" r="16.5"/><circle cx="638.4" cy="423.2" r="16.5"/></g>
<text transform="translate(631.47 352.2) scale(1.1604 1)" font-family="Liberation Serif, serif" font-size="30.68" font-style="italic" fill="#000">λ</text>
<text transform="translate(629.28 393.1) scale(1.1552 1)" font-family="Liberation Serif, serif" font-size="31.56" font-style="italic" fill="#000">h</text>
<text transform="translate(625.57 433.5) scale(1.1909 1)" font-family="Liberation Serif, serif" font-size="32.53" font-style="italic" fill="#000">T</text>
<circle cx="1040.75" cy="358.85" r="17.3" fill="#c6aed8" stroke="#111" stroke-width="2"/>
<circle cx="1040.75" cy="406.15" r="17.3" fill="#b9e1f3" stroke="#111" stroke-width="2"/>
<text transform="translate(1029.95 365.89) scale(1.1532 1)" font-family="Liberation Serif, serif" font-size="30.5" font-style="italic" fill="#000">α</text>
<text transform="translate(1032.04 413.16) scale(1.1334 1)" font-family="Liberation Serif, serif" font-size="29.77" font-style="italic" fill="#000">β</text>
<path d="M698.6 537.5V711.9H1048.6M683.2 588H698.6M683.2 687H698.6M732.6 711.9V727.2M844.5 711.9V727.2M956.4 711.9V727.2" fill="none" stroke="#000" stroke-width="3.5"/>
<path d="M713.9 589.5L723.2 595.7L732.5 602.3L742.1 609.1L751.4 617.4L760.7 624.9L770 631.5L779.3 638L788.6 643.9L797.9 648.3L807.2 651.3L816.5 653.1L825.8 654L835.1 654.3L844.4 654.2L853.7 653.9L863 653.3L872.3 652.5L881.6 651.4L890.9 649.9L900.2 648.2L909.5 645.7L918.8 642.4L928.1 638.7L937.4 635L946.7 631.5L956 628.4L965.3 626.2L974.6 624.7L983.9 624.1L993.2 623.9L1002.8 623.9L1012.1 623.9L1021.4 623.9L1031 623.9" fill="none" stroke="#b5ecfa" stroke-width="3.2"/>
<g fill="#b5ecfa"><circle cx="713.9" cy="582.5" r="4.15"/><circle cx="723.2" cy="601.1" r="4.15"/><circle cx="732.5" cy="602" r="4.15"/><circle cx="742.1" cy="604.1" r="4.15"/><circle cx="751.4" cy="622.1" r="4.15"/><circle cx="760.7" cy="623.9" r="4.15"/><circle cx="770" cy="631.1" r="4.15"/><circle cx="779.3" cy="638.6" r="4.15"/><circle cx="788.6" cy="644.9" r="4.15"/><circle cx="797.9" cy="648.8" r="4.15"/><circle cx="807.2" cy="652.1" r="4.15"/><circle cx="816.5" cy="653.6" r="4.15"/><circle cx="825.8" cy="654.2" r="4.15"/><circle cx="835.1" cy="654.5" r="4.15"/><circle cx="844.4" cy="654.2" r="4.15"/><circle cx="853.7" cy="654.2" r="4.15"/><circle cx="863" cy="653.3" r="4.15"/><circle cx="872.3" cy="652.7" r="4.15"/><circle cx="881.6" cy="651.5" r="4.15"/><circle cx="890.9" cy="650" r="4.15"/><circle cx="900.2" cy="648.5" r="4.15"/><circle cx="909.5" cy="646.4" r="4.15"/><circle cx="918.8" cy="642.5" r="4.15"/><circle cx="928.1" cy="638.6" r="4.15"/><circle cx="937.4" cy="635" r="4.15"/><circle cx="946.7" cy="631.1" r="4.15"/><circle cx="956" cy="628.1" r="4.15"/><circle cx="965.3" cy="625.7" r="4.15"/><circle cx="974.6" cy="624.2" r="4.15"/><circle cx="983.9" cy="623.9" r="4.15"/><circle cx="993.2" cy="623.9" r="4.15"/><circle cx="1002.8" cy="623.9" r="4.15"/><circle cx="1012.1" cy="623.9" r="4.15"/><circle cx="1021.4" cy="623.9" r="4.15"/><circle cx="1031" cy="623.9" r="4.15"/></g>
<path d="M713.9 682.8L723.2 686.6L732.5 690.2L742.1 692.8L751.4 695.6L760.7 697.6L770 698.3L779.3 698.2L788.6 697.2L797.9 695.1L807.2 691.8L816.5 687.6L825.8 682.7L835.1 677.1L844.4 671L853.7 664.8L863 658.2L872.3 651.4L881.6 644.2L890.9 636.7L900.2 628.8L909.5 620.2L918.8 611.1L928.1 601.6L937.4 591.9L946.7 582.8L956 575.2L965.3 569.7L974.6 566.6L983.9 565.2L993.2 564.8L1002.8 564.8L1012.1 564.8L1021.4 564.8L1031 564.8" fill="none" stroke="#cbb2f7" stroke-width="3.2"/>
<g fill="#cbb2f7"><circle cx="713.9" cy="678.5" r="4.15"/><circle cx="723.2" cy="689.9" r="4.15"/><circle cx="732.5" cy="690.8" r="4.15"/><circle cx="742.1" cy="690.8" r="4.15"/><circle cx="751.4" cy="697.4" r="4.15"/><circle cx="760.7" cy="698" r="4.15"/><circle cx="770" cy="698.6" r="4.15"/><circle cx="779.3" cy="698.6" r="4.15"/><circle cx="788.6" cy="697.7" r="4.15"/><circle cx="797.9" cy="695.9" r="4.15"/><circle cx="807.2" cy="692" r="4.15"/><circle cx="816.5" cy="688.1" r="4.15"/><circle cx="825.8" cy="683" r="4.15"/><circle cx="835.1" cy="677.3" r="4.15"/><circle cx="844.4" cy="671" r="4.15"/><circle cx="853.7" cy="665" r="4.15"/><circle cx="863" cy="658.4" r="4.15"/><circle cx="872.3" cy="651.5" r="4.15"/><circle cx="881.6" cy="644.3" r="4.15"/><circle cx="890.9" cy="637.1" r="4.15"/><circle cx="900.2" cy="629" r="4.15"/><circle cx="909.5" cy="620.6" r="4.15"/><circle cx="918.8" cy="611.3" r="4.15"/><circle cx="928.1" cy="601.7" r="4.15"/><circle cx="937.4" cy="591.8" r="4.15"/><circle cx="946.7" cy="581.9" r="4.15"/><circle cx="956" cy="573.8" r="4.15"/><circle cx="965.3" cy="568.7" r="4.15"/><circle cx="974.6" cy="565.4" r="4.15"/><circle cx="983.9" cy="564.8" r="4.15"/><circle cx="993.2" cy="564.8" r="4.15"/><circle cx="1002.8" cy="564.8" r="4.15"/><circle cx="1012.1" cy="564.8" r="4.15"/><circle cx="1021.4" cy="564.8" r="4.15"/><circle cx="1031" cy="564.8" r="4.15"/></g>
<path d="M777.5 560H832" stroke="#808080" stroke-width="2.8" fill="none"/>
<circle cx="804.8" cy="594.8" r="5.9" fill="#808080"/>
<text x="841.5" y="572" font-family="Liberation Sans, sans-serif" font-size="31.6" fill="#1c1c20">NN</text>
<text x="841.5" y="606" font-family="Liberation Sans, sans-serif" font-size="31.6" fill="#1c1c20">Fit</text>
<text transform="translate(1008.92 556.88) scale(1.1463 1)" font-family="Liberation Serif, serif" font-size="31.54" font-style="italic" fill="#c9b4dc">α</text>
<text transform="translate(1011.05 617.27) scale(1.0793 1)" font-family="Liberation Serif, serif" font-size="31.63" font-style="italic" fill="#bfe6f5">β</text>
<text transform="translate(1034.41 760.5) scale(1.2208 1)" font-family="Liberation Serif, serif" font-size="31.42" font-style="italic" fill="#000">h</text>
<text x="731.2" y="760.4" text-anchor="middle" font-family="DejaVu Sans, sans-serif" font-size="24.8" fill="#000">10<tspan font-size="16.6" dy="-9.3">−6</tspan></text>
<text x="843" y="760.4" text-anchor="middle" font-family="DejaVu Sans, sans-serif" font-size="24.8" fill="#000">10<tspan font-size="16.6" dy="-9.3">−3</tspan></text>
<text x="955.8" y="760.4" text-anchor="middle" font-family="DejaVu Sans, sans-serif" font-size="24.8" fill="#000">10<tspan font-size="16.6" dy="-9.3">0</tspan></text>
<text x="668.4" y="597.2" text-anchor="end" font-family="DejaVu Sans, sans-serif" font-size="24.5" fill="#000">10<tspan font-size="16.6" dy="-9.3">4</tspan></text>
<text x="668.4" y="696.2" text-anchor="end" font-family="DejaVu Sans, sans-serif" font-size="24.5" fill="#000">10<tspan font-size="16.6" dy="-9.3">0</tspan></text>
<clipPath id="cp4"><rect x="1217.3" y="383" width="437.7" height="216.3"/></clipPath>
<g clip-path="url(#cp4)">
<path d="M1213.6 599.3L1215.6 599.1L1217.3 598.6L1218.5 597.5L1219.3 596.1L1220.1 593.9L1221 590.4L1221.8 585.1L1222.6 577.6L1223.8 560.8L1225.1 536.5L1226.3 504.9L1228.8 432.1L1230 402.5L1230.8 389.6L1231.2 385.8L1231.6 383.8L1232.1 383.8L1232.5 385.8L1232.9 389.6L1234.1 411.2L1238.2 526.7L1239.4 553.6L1240.3 567.2L1241.5 581.7L1242.7 590.4L1243.5 593.9L1244.4 596.1L1245.2 597.5L1246.4 598.6L1247.2 598.9L1248.5 599.2L1253 599.3L1657 599.3M1213.6 599.3L1613.9 599.3L1618 599.2L1619.2 599L1620.1 598.6L1621.3 597.5L1622.1 596.1L1622.9 593.7L1623.8 589.8L1625 580.1L1626.2 563.8L1627.1 548.4L1628.3 518.3L1632 408.9L1632.8 393.1L1633.2 387.8L1633.6 384.6L1634 383.6L1634.4 384.6L1634.9 387.8L1635.7 400.2L1636.9 430.4L1639.4 506.6L1640.6 539.3L1641.8 563.8L1642.7 575.5L1643.5 584L1644.3 589.8L1645.1 593.7L1645.9 596.1L1647.2 598L1648.4 598.8L1649.6 599.1L1657 599.3M1213.6 599.3L1241.1 599.3L1250.5 599.1L1258.7 598.5L1262.4 598L1266.1 597.3L1269.8 596.3L1273.1 595.2L1280.1 592.3L1286.7 588.9L1301.9 580.3L1306 578.3L1310.1 576.5L1314.6 574.9L1319.1 573.7L1323.2 573.1L1327.7 572.8L1331.8 573L1335.9 573.5L1340.5 574.5L1345.4 575.9L1353.6 578.8L1370 585.5L1377 588.2L1384.4 590.8L1391.8 593L1398.8 594.6L1406.1 596L1413.9 597.1L1422.2 597.9L1430.4 598.5L1439.4 598.8L1464 599.2L1657 599.3M1213.6 599.3L1345.8 599.2L1361.8 598.8L1368 598.4L1373.3 597.8L1378.6 597L1384 595.8L1388.9 594.3L1393.4 592.7L1398.3 590.5L1403.7 587.7L1409 584.7L1422.2 576.6L1425.9 574.6L1429.6 572.7L1433.7 571.1L1437.4 569.9L1441 569.3L1444.7 569L1448.4 569.3L1452.1 569.9L1455.8 571.1L1459.9 572.8L1463.6 574.6L1467.3 576.7L1480.1 584.6L1485.4 587.8L1490.3 590.4L1495.2 592.6L1499.8 594.3L1504.3 595.7L1509.2 596.9L1514.1 597.7L1519.5 598.4L1525.2 598.8L1540 599.2L1657 599.3M1213.6 599.3L1482.1 599.3L1495.7 599L1500.2 598.7L1503.9 598.2L1506.7 597.6L1509.2 596.8L1511.7 595.8L1513.7 594.7L1515.8 593.3L1517.8 591.5L1519.9 589.5L1521.5 587.5L1524.8 582.9L1528.5 576.4L1531.8 569.6L1538.8 554.3L1542.5 547.3L1544.5 544.2L1546.6 542L1547.8 541.1L1548.6 540.7L1550.3 540.4L1551.9 540.8L1553.6 541.9L1555.2 543.6L1556.8 546.1L1558.5 549L1560.5 553.4L1569.6 575.7L1571.6 580.3L1573.7 584.4L1576.1 588.6L1578.6 591.9L1581.1 594.4L1583.9 596.5L1586.4 597.6L1589.3 598.4L1592.6 598.9L1596.3 599.2L1605.3 599.3L1657 599.3" fill="none" stroke="#a9a9a9" stroke-width="4.6" stroke-linejoin="round"/>
<path d="M1230 350.6L1233 350.6L1233.5 365.9L1234.5 430.4L1235.5 466.5L1236.5 489.9L1238 516.2L1239 531.6L1240.5 548.9L1241.5 557L1243 565.9L1244.5 572.5L1246.5 579L1249 584.8L1251.5 589L1253 590.8L1254.5 592.4L1257.5 594.6L1259.5 595.7L1262 596.7L1267.5 598.3L1272.5 599L1279 599.3L1640.6 599.3" fill="none" stroke="#ee923a" stroke-width="6.5" stroke-dasharray="29 3" stroke-dashoffset="7" stroke-linejoin="round"/>
<path d="M1230 599.3L1246.5 599.3L1254.5 599L1262 598.2L1268.5 596.8L1274.5 594.8L1280.5 592.1L1286.4 589L1301.4 580.5L1305.9 578.2L1309.9 576.5L1314.4 574.9L1318.9 573.7L1323.4 573L1327.9 572.8L1331.9 573L1336.4 573.6L1340.9 574.6L1345.4 575.9L1353.9 578.9L1369.9 585.5L1376.9 588.2L1384.3 590.8L1391.3 592.8L1398.3 594.5L1405.8 595.9L1413.3 597L1421.3 597.8L1429.3 598.4L1438.3 598.8L1462.3 599.2L1640.6 599.3" fill="none" stroke="#ee923a" stroke-width="6.5" stroke-dasharray="29 3" stroke-dashoffset="19" stroke-linejoin="round"/>
<path d="M1230 599.3L1347.4 599.2L1362.9 598.8L1368.9 598.3L1374.4 597.7L1379.4 596.8L1384.3 595.7L1389.3 594.2L1393.8 592.5L1398.8 590.2L1403.8 587.7L1409.3 584.5L1422.3 576.5L1429.3 572.8L1433.3 571.2L1437.3 570L1441.3 569.2L1444.8 569L1447.8 569.2L1451.3 569.7L1454.8 570.7L1458.3 572L1461.8 573.6L1465.8 575.8L1483.3 586.6L1487.7 589.1L1492.2 591.3L1497.2 593.4L1502.2 595.1L1507.7 596.6L1513.2 597.6L1518.2 598.2L1524.2 598.7L1538.7 599.2L1640.6 599.3" fill="none" stroke="#ee923a" stroke-width="6.5" stroke-dasharray="29 3" stroke-dashoffset="3" stroke-linejoin="round"/>
<path d="M1230 599.3L1481.8 599.3L1495.2 599L1499.7 598.7L1503.7 598.2L1506.2 597.6L1508.7 596.9L1511.2 595.9L1513.2 594.8L1515.2 593.5L1517.2 591.9L1519.2 590L1521.2 587.7L1524.7 582.8L1528.2 576.8L1531.7 569.8L1539.2 553.6L1542.7 547.1L1544.7 544.1L1546.7 542L1548.7 540.7L1550.2 540.4L1551.7 540.6L1552.7 541.1L1553.7 541.9L1555.2 543.5L1557.2 546.4L1558.7 549.2L1560.7 553.5L1569.7 576L1571.7 580.6L1573.7 584.6L1575.7 588.1L1578.2 591.7L1580.7 594.3L1583.2 596.3L1585.2 597.3L1587.7 598.2L1590.6 598.8L1594.1 599.1L1602.1 599.3L1640.6 599.3" fill="none" stroke="#ee923a" stroke-width="6.5" stroke-dasharray="29 3" stroke-dashoffset="26" stroke-linejoin="round"/>
<path d="M1230 599.3H1230V375" fill="none" stroke="#ee923a" stroke-width="6.5" stroke-dasharray="29 3" stroke-dashoffset="12" stroke-linejoin="round"/>
<path d="M1230 599.3H1631.6L1632.4 383v-8" fill="none" stroke="#ee923a" stroke-width="6.5" stroke-dasharray="29 3" stroke-dashoffset="0" stroke-linejoin="round"/>
<path d="M1230 599.3H1636.6L1635.4 383v-8" fill="none" stroke="#ee923a" stroke-width="6.5" stroke-dasharray="29 3" stroke-dashoffset="16" stroke-linejoin="round"/>
</g>
<path d="M1217.3 383V599.3H1655M1201.7 383H1219.05M1201.7 599.3H1217.3M1230 599.3v15.6M1640.6 599.3v15.6" fill="none" stroke="#000" stroke-width="3.5"/>
<g font-family="DejaVu Sans, sans-serif" font-size="25" fill="#000"><text x="1189.9" y="392.7" text-anchor="end">40</text><text x="1189.9" y="608.7" text-anchor="end">0</text><text x="1229.8" y="645.9" text-anchor="middle">0</text><text x="1640.9" y="645.9" text-anchor="middle">1</text></g>
<text x="1433.3" y="409" text-anchor="middle" font-family="Liberation Sans, sans-serif" font-weight="bold" font-size="31.68" fill="#1c1c20">Gaussian filter</text>
<text x="1379.3" y="645.6" font-family="Liberation Serif, serif" font-size="31.5" fill="#000">output</text>
<text transform="translate(1470.23 645.72) scale(1.1395 1)" font-family="Liberation Serif, serif" font-size="28.69" font-style="italic" fill="#000">o</text>
<text transform="translate(1484.85 632.2) scale(1.3021 1)" font-family="Liberation Serif, serif" font-size="22.91" font-style="italic" fill="#000">T</text>
<text transform="translate(1182.1 552.81) rotate(-90) scale(1.039 1)" font-family="Liberation Serif, serif" font-size="34.21" font-style="italic" fill="#000">P</text>
<text transform="translate(1184.19 522.36) rotate(-90) scale(0.828 1)" font-family="Liberation Serif, serif" font-size="42.79" fill="#000">(</text>
<text transform="translate(1182.56 509.77) rotate(-90) scale(1.1746 1)" font-family="Liberation Serif, serif" font-size="24.74" font-style="italic" fill="#000">o</text>
<text transform="translate(1168.1 494.02) rotate(-90) scale(1.3044 1)" font-family="Liberation Serif, serif" font-size="22.45" font-style="italic" fill="#000">T</text>
<text transform="translate(1182.16 473.52) rotate(-90) scale(1.021 1)" font-family="Liberation Serif, serif" font-size="35.4" fill="#000">|</text>
<text transform="translate(1182.5 464.78) rotate(-90) scale(1.16 1)" font-family="Liberation Serif, serif" font-size="32.86" font-style="italic" fill="#000">h</text>
<text transform="translate(1184.19 447.04) rotate(-90) scale(0.828 1)" font-family="Liberation Serif, serif" font-size="42.79" fill="#000">)</text>
<path d="M1768.5 350L1682 492L1768.5 634" fill="none" stroke="#1c1c20" stroke-width="8.6" stroke-linejoin="bevel"/>
<path d="M1777 336L1775 363.5L1754 350.5Z" fill="#1c1c20"/>
<path d="M1777 648L1775 620.5L1754 633.5Z" fill="#1c1c20"/>
<text x="1877" y="467.3" text-anchor="middle" font-family="Liberation Sans, sans-serif" font-weight="bold" font-size="31.68" fill="#1c1c20">Two sets of</text>
<text x="1877" y="500.15" text-anchor="middle" font-family="Liberation Sans, sans-serif" font-weight="bold" font-size="31.68" fill="#1c1c20">discriminable</text>
<text x="1877" y="533" text-anchor="middle" font-family="Liberation Sans, sans-serif" font-weight="bold" font-size="31.68" fill="#1c1c20">inputs</text>
<clipPath id="cp5"><rect x="1562.5" y="73.1" width="438.5" height="216.5"/></clipPath>
<path d="M1577 83.5H1730" stroke="#a9a9a9" stroke-width="7.8" fill="none"/>
<path d="M1728 71.5V95.5L1752 83.5Z" fill="#a9a9a9"/>
<g clip-path="url(#cp5)">
<path d="M1558.7 289.6L1564 289.5L1565.7 289.3L1566.9 288.9L1568.1 288.2L1568.9 287.4L1569.8 286.3L1570.6 284.9L1572.2 280.5L1573.9 274.1L1578.8 248.5L1580 242.8L1581.3 238.2L1582.5 234.8L1583.7 232.4L1585 231.1L1585.8 230.6L1586.6 230.5L1587.8 230.7L1589.1 231.4L1590.3 232.5L1591.9 234.3L1595.6 239.4L1605.1 253.8L1610 260.6L1613.3 264.6L1616.2 267.8L1619.4 271L1622.7 273.8L1626.4 276.6L1630.1 278.9L1633.8 280.9L1637.9 282.7L1642 284.1L1646.5 285.4L1651.5 286.5L1656.8 287.3L1665.4 288.3L1675.3 288.9L1687.6 289.3L1704 289.5L2002.1 289.6" fill="none" stroke="#006400" stroke-width="5.8" stroke-linejoin="round"/>
<path d="M1558.7 289.5L1560.3 289.3L1561.6 288.7L1562.8 287.2L1563.6 285.4L1564.4 282.3L1565.2 277.6L1566.5 266L1567.7 247.2L1568.9 220.1L1573 100.6L1573.9 84.8L1574.3 79.6L1574.7 76.5L1575.1 75.4L1575.5 76.5L1575.9 79.6L1576.3 84.8L1577.2 100.6L1580.8 209.2L1582.1 239.1L1582.9 254.4L1584.1 270.6L1585.4 280.2L1586.2 284L1587 286.4L1587.8 287.8L1589.1 288.9L1589.9 289.3L1591.1 289.5L1595.2 289.6L2002.1 289.6M1558.7 289.6L1963.9 289.6L1968 289.5L1969.3 289.3L1970.1 289L1971.3 288L1972.2 286.6L1973 284.3L1973.8 280.6L1975 271.4L1976.3 255.7L1977.1 240.8L1978.3 211.4L1982 102.5L1983.2 80.5L1983.6 76.9L1984.1 75.4L1984.5 76.1L1984.9 78.8L1985.3 83.6L1986.1 98.7L1986.9 119.6L1990.2 218L1991.4 245.7L1992.7 265L1993.5 273.7L1994.3 279.7L1995.1 283.7L1996 286.2L1996.8 287.7L1998 288.9L1999.7 289.4L2002.1 289.6" fill="none" stroke="#000" stroke-width="4.4" stroke-linejoin="round"/>
<path d="M1558.7 289.6L1581.3 289.6L1589.1 289.4L1596.5 288.8L1602.6 287.5L1608.8 285.4L1614.9 282.6L1620.7 279.3L1635 270.5L1639.2 268.3L1643.3 266.3L1647.8 264.6L1651.9 263.5L1656 262.8L1660.5 262.5L1664.6 262.7L1668.7 263.3L1673.2 264.3L1677.8 265.6L1686 268.6L1702 275.3L1709.4 278.2L1716.8 280.8L1724.1 283L1731.5 284.8L1739.3 286.2L1747.6 287.4L1756.2 288.2L1764.8 288.8L1774.2 289.2L1799.7 289.5L2002.1 289.6M1558.7 289.6L1655.2 289.5L1669.5 289L1675.3 288.6L1680.6 287.9L1686.4 286.9L1691.7 285.6L1696.6 284.1L1702 282.1L1706.5 280.1L1711 277.9L1729.5 268.1L1733.6 266.2L1737.7 264.5L1741.4 263.3L1745.1 262.5L1748.8 261.9L1752.5 261.7L1756.6 261.9L1760.7 262.6L1764.8 263.6L1769.3 265.2L1777.1 268.6L1797.2 278.7L1803 281.2L1808.7 283.3L1814.1 284.9L1819.4 286.3L1825.2 287.3L1831.3 288.2L1837.5 288.7L1844.5 289.1L1862.1 289.5L2002.1 289.6M1558.7 289.6L1735.2 289.6L1751.7 289.2L1757.4 288.8L1762.7 288.3L1768.5 287.3L1773.8 285.9L1778.8 284.1L1783.7 281.8L1788.6 278.9L1793.5 275.4L1798.1 271.9L1809.6 262.2L1815.3 258L1818.6 256.1L1821.9 254.7L1825.2 253.8L1828 253.6L1830.5 253.7L1833.4 254.3L1836.2 255.4L1839.1 257L1842 258.8L1845.3 261.4L1860.1 274.6L1863.8 277.6L1867.4 280.3L1871.6 282.8L1876.1 285L1880.6 286.7L1885.1 287.8L1889.2 288.5L1893.7 289L1899.1 289.3L1906 289.5L2002.1 289.6M1558.7 289.6L1807.9 289.6L1822.3 289.3L1827.2 289L1831.3 288.5L1836.7 287.3L1839.1 286.5L1841.6 285.4L1844 284L1846.1 282.6L1848.1 281L1850.2 279.1L1853.9 274.9L1858 269.3L1861.7 263.4L1869.9 249.4L1874 243.4L1876.5 240.6L1878.5 239L1880.6 237.9L1882.6 237.6L1884.3 237.9L1886.3 239L1888 240.3L1890 242.6L1892.1 245.5L1894.5 249.6L1904.4 268.5L1906.9 272.8L1909.3 276.6L1912.2 280.3L1915.1 283.3L1918 285.5L1920.8 287L1923.7 288.1L1926.6 288.8L1930.3 289.2L1934.8 289.5L2002.1 289.6M1558.7 289.6L1863.8 289.6L1875.2 289.4L1878.9 289.1L1881.8 288.6L1884.3 287.9L1886.3 287.1L1888.4 285.9L1890 284.6L1891.7 282.9L1893.3 280.9L1895 278.4L1896.6 275.3L1899.5 268.5L1902.3 260L1904.8 251.4L1910.6 229.8L1913.4 220.5L1915.1 216.5L1916.3 214.3L1917.1 213.2L1918 212.5L1919.2 212.2L1920.4 212.8L1921.2 213.7L1922.1 214.9L1923.3 217.6L1924.9 222.2L1927.8 232.9L1934.4 261L1936.4 268.5L1938.1 273.6L1939.7 277.8L1941.4 281.2L1943 283.8L1945.1 286.1L1947.1 287.6L1949.2 288.6L1951.6 289.1L1954.5 289.4L1961.5 289.6L2002.1 289.6M1558.7 289.6L1904 289.6L1912.2 289.4L1914.7 289.2L1916.7 288.8L1918.8 288L1920.4 286.9L1922.1 285.1L1923.3 283.3L1924.5 280.8L1925.8 277.6L1927.8 270.3L1929.9 260L1931.9 246.6L1937.7 199.7L1939.3 187.9L1940.5 181.2L1941.4 177.9L1942.2 175.7L1942.6 175.1L1943 174.9L1943.4 174.9L1943.8 175.3L1944.2 175.9L1945.1 178.3L1945.9 181.9L1947.1 189.3L1948.7 202.3L1953.7 247.6L1956.1 265.5L1957.4 272.2L1958.6 277.5L1959.8 281.5L1961.1 284.3L1962.3 286.3L1963.9 288L1965.6 288.8L1968 289.4L1973 289.6L2002.1 289.6M1558.7 289.6L1931.5 289.6L1937.2 289.5L1938.9 289.2L1940.1 288.9L1941.8 287.9L1943 286.5L1944.2 284.2L1945.1 282L1945.9 278.9L1946.7 275L1948.3 263.6L1949.6 251.5L1951.2 230.4L1955.3 163.2L1956.5 146L1957.8 134.2L1958.6 130.1L1959 129.4L1959.4 129.5L1959.8 130.5L1960.2 132.4L1961.5 143L1962.7 159.7L1966.4 223.8L1968 248L1968.9 257.7L1970.1 269.2L1970.9 274.9L1972.2 281.1L1973 283.9L1974.2 286.6L1975 287.7L1975.8 288.4L1977.5 289.2L1979.1 289.5L1981.6 289.6L2002.1 289.6M1558.7 289.6L1950 289.6L1954.5 289.5L1955.7 289.2L1956.5 288.9L1957.8 287.8L1958.6 286.6L1959.4 284.6L1960.2 281.5L1961.5 274L1962.7 261.7L1963.9 243.2L1965.2 218.2L1969.3 115.1L1970.5 96L1970.9 92.5L1971.3 90.7L1971.7 90.6L1972.2 92.1L1972.6 95.3L1973.8 113.9L1975 142.4L1977.5 207.8L1979.1 243.1L1980.4 261.8L1981.2 270.7L1982 277.2L1982.8 281.8L1983.6 284.8L1984.9 287.5L1986.1 288.7L1987.3 289.3L1989.4 289.5L2002.1 289.6" fill="none" stroke="#a9a9a9" stroke-width="4.3" stroke-linejoin="round"/>
</g>
<path d="M1562.5 73.1V289.6H2001M1546.9 73.1H1564.25M1546.9 289.6H1562.5M1575.1 289.6v15.6M1985.7 289.6v15.6" fill="none" stroke="#000" stroke-width="3.5"/>
<g font-family="DejaVu Sans, sans-serif" font-size="25" fill="#000"><text x="1535.1" y="82.8" text-anchor="end">40</text><text x="1535.1" y="299" text-anchor="end">0</text><text x="1574.9" y="336.2" text-anchor="middle">0</text><text x="1986" y="336.2" text-anchor="middle">1</text></g>
<text x="1595" y="120" font-family="Liberation Sans, sans-serif" font-weight="bold" font-size="31.68" fill="#1c1c20">constant</text>
<text x="1595" y="152.7" font-family="Liberation Sans, sans-serif" font-weight="bold" font-size="31.68" fill="#1c1c20">overlap</text>
<clipPath id="cp6"><rect x="1562.5" y="707.5" width="438.5" height="216.5"/></clipPath>
<path d="M1824 717.8H1983" stroke="#a9a9a9" stroke-width="7.8" fill="none"/>
<path d="M1826 705.8V730L1802 718Z" fill="#a9a9a9"/>
<g clip-path="url(#cp6)">
<path d="M1558.7 924L1952.4 924L1957 923.9L1959 923.4L1960.2 922.6L1961.5 920.7L1962.3 918.4L1963.1 914.8L1964.3 906.1L1965.6 891.8L1966.4 878.4L1967.6 852.3L1971.7 742.9L1973 723.4L1973.4 720.2L1973.8 718.7L1974.2 719.1L1974.6 721.4L1975 725.4L1975.8 738.4L1977.1 767.3L1979.5 836.6L1980.8 866.3L1982.4 894.8L1983.2 904.3L1984.1 911.2L1984.9 916L1985.7 919.2L1986.9 921.9L1988.2 923.2L1989.4 923.7L1991 923.9L2002.1 924" fill="none" stroke="#006400" stroke-width="5.8" stroke-linejoin="round"/>
<path d="M1558.7 923.9L1560.3 923.7L1561.6 923.1L1562.8 921.6L1563.6 919.8L1564.4 916.7L1565.2 912L1566.5 900.4L1567.7 881.6L1568.9 854.5L1573 735L1573.9 719.2L1574.3 714L1574.7 710.9L1575.1 709.8L1575.5 710.9L1575.9 714L1576.3 719.2L1577.2 735L1580.8 843.6L1582.1 873.5L1582.9 888.8L1584.1 905L1585.4 914.6L1586.2 918.4L1587 920.8L1587.8 922.2L1589.1 923.3L1589.9 923.7L1591.1 923.9L1595.2 924L2002.1 924M1558.7 924L1963.9 924L1968 923.9L1969.3 923.7L1970.1 923.4L1971.3 922.4L1972.2 921L1973 918.7L1973.8 915L1975 905.8L1976.3 890.1L1977.1 875.2L1978.3 845.8L1982 736.9L1983.2 714.9L1983.6 711.3L1984.1 709.8L1984.5 710.5L1984.9 713.2L1985.3 718L1986.1 733.1L1986.9 754L1990.2 852.4L1991.4 880.1L1992.7 899.4L1993.5 908.1L1994.3 914.1L1995.1 918.1L1996 920.6L1996.8 922.1L1998 923.3L1999.7 923.8L2002.1 924" fill="none" stroke="#000" stroke-width="4.4" stroke-linejoin="round"/>
<path d="M1558.7 924L1565.2 923.9L1568.1 923.6L1570.2 922.8L1571.4 921.9L1572.2 921L1573.9 918.6L1575.5 915.2L1577.2 911L1582.1 897L1584.1 892.2L1585.8 889L1587.8 886L1589.1 884.7L1590.3 883.6L1591.5 882.8L1592.8 882.3L1594 881.9L1595.6 881.8L1597.7 882L1599.7 882.6L1602.2 883.7L1604.7 885.1L1609.6 888.6L1622.3 898.8L1629.3 903.9L1636.7 908.7L1644.1 912.5L1648.2 914.3L1652.3 915.9L1656.4 917.2L1660.9 918.5L1665.8 919.6L1670.8 920.6L1681.4 922L1690.9 922.8L1702 923.4L1715.5 923.7L1732.8 923.9L2002.1 924M1558.7 924L1586.6 924L1596.5 923.8L1605.1 923.2L1612.5 922L1619.4 920.2L1626.8 917.4L1633.8 914.3L1649.8 906.3L1654.3 904.3L1658.9 902.5L1663.8 901L1668.3 900L1672.8 899.3L1677.8 899.1L1682.3 899.3L1686.8 899.8L1691.7 900.7L1696.6 902L1705.7 904.9L1730.3 913.6L1738.1 916L1745.5 918L1752.9 919.5L1760.3 920.8L1768.1 921.8L1776.7 922.6L1785.3 923.2L1794.8 923.5L1819.4 923.9L2002.1 924M1558.7 924L1666.7 923.9L1682.3 923.4L1688.4 923L1693.8 922.4L1699.5 921.5L1705.3 920.2L1711 918.5L1716.3 916.6L1720.9 914.7L1725.8 912.4L1745.1 902.5L1749.2 900.7L1753.3 899.1L1757 897.9L1760.7 897.1L1764.4 896.6L1768.1 896.4L1772.2 896.6L1776.3 897.2L1780.4 898.3L1784.9 899.8L1792.7 903.2L1807.5 910.7L1813.2 913.4L1819 915.9L1824.3 917.9L1829.3 919.4L1834.6 920.7L1839.9 921.7L1845.7 922.5L1851.8 923.1L1858.4 923.5L1875.2 923.9L2002.1 924M1558.7 924L1748.8 924L1765.2 923.6L1771 923.3L1776.3 922.7L1782 921.7L1787.4 920.2L1792.3 918.4L1797.2 915.9L1801.8 913L1806.7 909.2L1811.2 905.3L1822.3 895.1L1825.2 892.7L1828 890.5L1831.3 888.5L1834.2 887.2L1837.1 886.4L1839.9 886.1L1842.4 886.3L1845.3 887.1L1847.7 888.2L1850.6 889.9L1853.5 892.1L1856.4 894.6L1870.3 908.5L1873.6 911.5L1876.9 914.1L1880.6 916.7L1884.7 919L1888.8 920.7L1893.3 922.1L1897 922.8L1901.5 923.4L1906.5 923.7L1912.6 923.9L2002.1 924M1558.7 924L1819.4 924L1833.8 923.7L1838.3 923.4L1842.4 922.9L1845.3 922.3L1847.7 921.6L1850.2 920.6L1852.3 919.6L1854.3 918.4L1856.4 916.9L1858.4 915.1L1860.5 913L1864.2 908.4L1867.9 902.7L1871.6 896.1L1879.4 881.2L1883 875.1L1885.1 872.4L1887.2 870.4L1889.2 869.2L1890.4 868.8L1891.3 868.8L1892.5 869L1893.3 869.3L1895.4 870.7L1897.4 872.9L1899.5 875.9L1903.2 882.9L1912.6 903.4L1915.5 908.8L1918 912.7L1920 915.4L1922.5 918L1924.9 920L1927.4 921.4L1929.9 922.4L1932.7 923.2L1936 923.6L1940.1 923.9L2002.1 924M1558.7 924L1872.4 924L1883 923.8L1886.3 923.5L1889.2 923L1891.3 922.4L1893.3 921.6L1895.4 920.3L1897 918.8L1898.7 916.9L1900.3 914.5L1901.9 911.5L1903.2 908.8L1905.6 902.1L1908.5 892.2L1911 882.1L1916.3 858.5L1918.8 849.2L1920.4 844.5L1921.6 842L1922.9 840.5L1923.7 840.1L1924.1 840.1L1924.5 840.2L1925.3 840.9L1926.6 842.7L1927.8 845.7L1929.4 851.2L1931.9 862L1938.1 892.8L1939.7 899.9L1941.4 906L1943 911L1944.6 915L1946.3 918L1947.9 920.1L1949.6 921.6L1951.6 922.8L1954.1 923.5L1957 923.8L1963.5 924L2002.1 924M1558.7 924L1910.6 924L1918.4 923.8L1920.8 923.5L1922.5 923.1L1924.1 922.4L1925.8 921.1L1927 919.7L1928.2 917.7L1929.4 915L1930.7 911.3L1932.7 902.7L1934.4 893.2L1936.4 877.7L1941.8 827.1L1943.4 813.6L1944.2 808.3L1945.1 804.3L1945.9 801.7L1946.3 800.9L1946.7 800.6L1947.1 800.7L1947.5 801.1L1948.3 803.3L1949.2 806.9L1950.4 815.1L1952 830L1956.5 877.8L1957.8 888.9L1959 898.4L1959.8 903.6L1961.1 910L1962.3 914.8L1963.5 918.2L1964.8 920.5L1966.4 922.3L1968 923.2L1970.1 923.8L1975 924L2002.1 924M1558.7 924L1935.2 924L1940.5 923.9L1942.2 923.7L1943.4 923.4L1944.6 922.7L1945.9 921.5L1947.1 919.3L1947.9 917.2L1948.7 914.2L1949.6 910.2L1951.2 898.3L1952.4 885.2L1954.1 861.9L1957.8 794.6L1959 775L1960.2 761.3L1961.1 756.6L1961.5 755.7L1961.9 755.8L1962.3 757L1962.7 759.1L1963.5 766.3L1964.3 776.9L1965.6 797.6L1968.9 860.4L1970.5 885.5L1972.2 903L1973 909.2L1974.2 915.6L1975 918.5L1976.3 921.2L1977.5 922.6L1979.1 923.5L1980.8 923.9L1982.8 924L2002.1 924" fill="none" stroke="#a9a9a9" stroke-width="4.3" stroke-linejoin="round"/>
</g>
<path d="M1562.5 707.5V924H2001M1546.9 707.5H1564.25M1546.9 924H1562.5M1575.1 924v15.6M1985.7 924v15.6" fill="none" stroke="#000" stroke-width="3.5"/>
<g font-family="DejaVu Sans, sans-serif" font-size="25" fill="#000"><text x="1535.1" y="717.2" text-anchor="end">40</text><text x="1535.1" y="933.4" text-anchor="end">0</text><text x="1574.9" y="970.6" text-anchor="middle">0</text><text x="1986" y="970.6" text-anchor="middle">1</text></g>
<text x="1825" y="754.2" font-family="Liberation Sans, sans-serif" font-weight="bold" font-size="31.68" fill="#1c1c20">constant</text>
<text x="1825" y="787.4" font-family="Liberation Sans, sans-serif" font-weight="bold" font-size="31.68" fill="#1c1c20">overlap</text>
</svg></body></html>
